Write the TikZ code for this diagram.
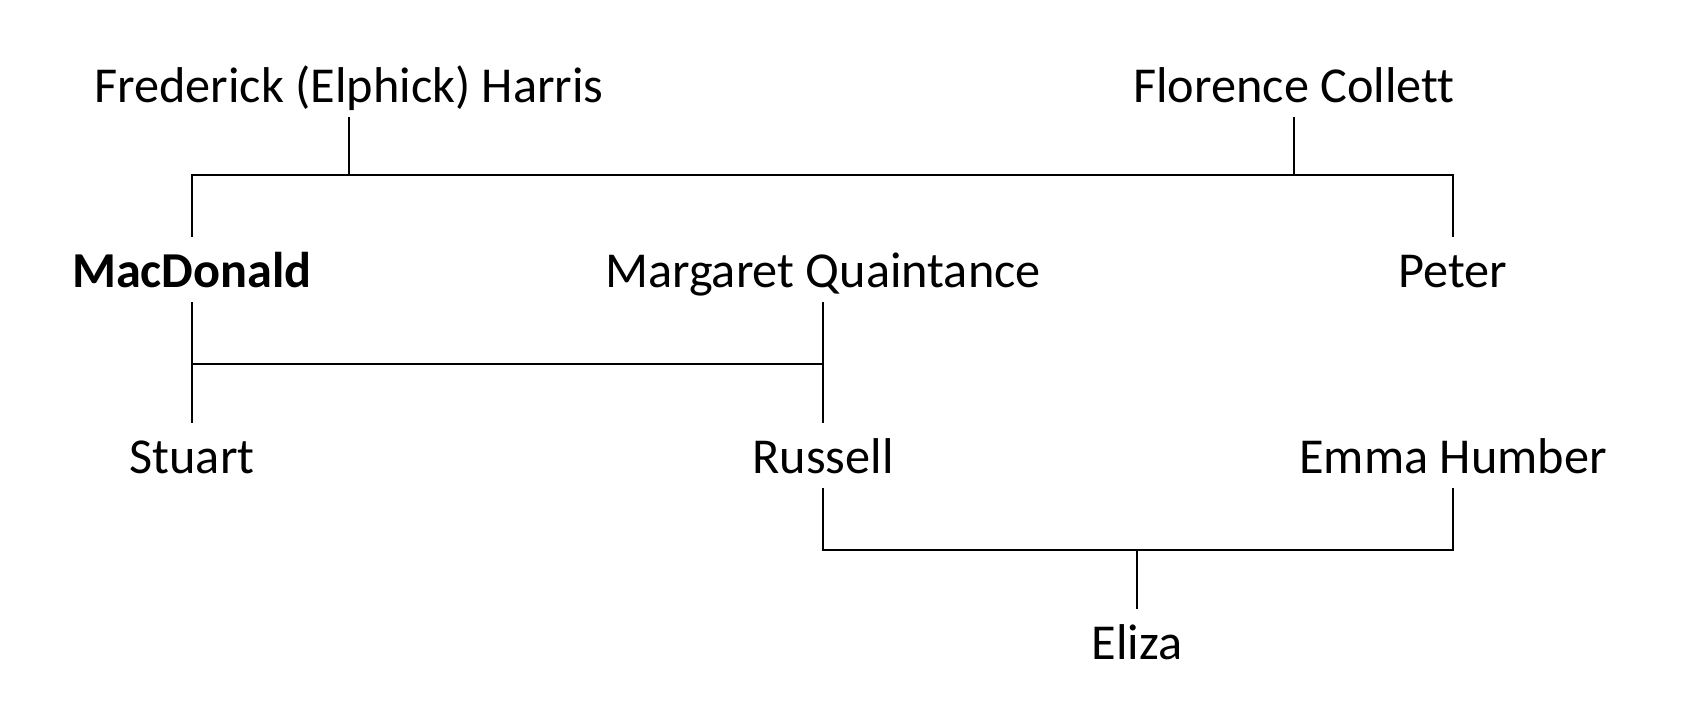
\documentclass[tikz,border=0pt]{standalone}
\usepackage{fontspec}
\setmainfont{Carlito}[Ligatures=NoCommon]
\usepackage{tikz}

\begin{document}
\begin{tikzpicture}[x=0.01cm,y=-0.01cm,line width=0.6pt,
		person/.style={inner sep=0pt,anchor=base,text height=0.5cm,text depth=0.13cm,font=\fontsize{14.3}{17}\selectfont}]
		\useasboundingbox (0,0) rectangle (1684,710);
		% parents
		\node [person] (harris) at (349,103) {Frederick (Elphick) Harris};
		\node [person] (collett) at (1294,103) {Florence Collett};
		% children
		\node [person] (mac) at (192,288) {\textbf{MacDonald}};
		\node [person] (margaret) at (823,288) {Margaret Quaintance};
		\node [person] (peter) at (1453,288) {Peter};
		\node [person] (stuart) at (192,474) {Stuart};
		\node [person] (russell) at (823,474) {Russell};
		\node [person] (emma) at (1453,474) {Emma Humber};
		\node [person] (eliza) at (1137,660) {Eliza};
		% junction heights
		\coordinate (j1) at (0,175);
		\coordinate (j2) at (0,364);
		\coordinate (j3) at (0,550);
		\draw (harris.south)--(harris.south |- j1);
		\draw (collett.south)--(collett.south |- j1);
		\draw (mac.north)--(mac.north |- j1)--(peter.north |- j1)--(peter.north);
		\draw (mac.south)--(stuart.north);
		\draw (margaret.south)--(russell.north);
		\draw (mac.south |- j2)--(margaret.south |- j2);
		\draw (russell.south)--(russell.south |- j3)--(emma.south |- j3)--(emma.south);
		\draw (eliza.north |- j3)--(eliza.north);
	\end{tikzpicture}
\end{document}
